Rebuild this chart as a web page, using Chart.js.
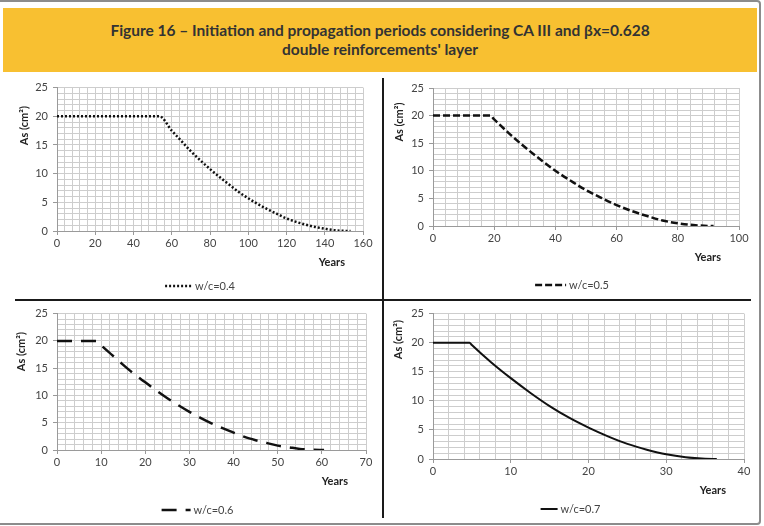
<!DOCTYPE html>
<html>
<head>
<meta charset="utf-8">
<script src="https://cdn.jsdelivr.net/npm/chart.js@4.4.0/dist/chart.umd.min.js"></script>
<style>
body { margin: 0; background: #fff; width: 764px; height: 526px; overflow: hidden; position: relative; font-family: Lato, sans-serif; }
#frame { position: absolute; left: -4px; top: 0px; width: 761px; height: 521px; border: 2px solid #8c8c8c; border-radius: 4px; }
#banner { position: absolute; left: 3px; top: 8px; width: 754px; height: 64px; background: #f8c031; text-align: center; color: #333; font: bold 15.5px Lato, sans-serif; line-height: 19px; box-sizing: border-box; padding-top: 13px; }
.vline { position: absolute; left: 382px; top: 78px; width: 2px; height: 440px; background: #1a1a1a; }
.hline { position: absolute; left: 15px; top: 299px; width: 736px; height: 2px; background: #1a1a1a; }
.box { position: absolute; }
</style>
</head>
<body>
<div id="frame"></div>
<div id="banner">Figure 16 – Initiation and propagation periods considering CA III and βx=0.628<br>double reinforcements' layer</div>
<div class="vline"></div>
<div class="hline"></div>
<div class="box" style="left:0px;top:76px"><canvas id="c1" width="382" height="222"></canvas></div>
<div class="box" style="left:384px;top:76px"><canvas id="c2" width="376" height="222"></canvas></div>
<div class="box" style="left:0px;top:302px"><canvas id="c3" width="382" height="220"></canvas></div>
<div class="box" style="left:384px;top:302px"><canvas id="c4" width="374" height="218"></canvas></div>
<script>
// w/c = 0.4
var years04 = [0, 53.5, 60, 65, 70, 75, 80, 85, 90, 95, 100, 105, 110, 115, 120, 125, 130, 135, 140, 145, 150, 153.5];
var as04    = [20, 20, 17.5, 15.7, 13.9, 12.3, 10.8, 9.4, 8.1, 6.8, 5.7, 4.7, 3.8, 3.0, 2.2, 1.6, 1.1, 0.7, 0.4, 0.14, 0.02, 0];
// w/c = 0.5
var years05 = [0, 18.7, 20, 25, 30, 35, 40, 45, 50, 55, 60, 65, 70, 75, 80, 85, 90, 91.7];
var as05    = [20, 20, 19.3, 16.7, 14.3, 12.1, 10.0, 8.2, 6.5, 5.1, 3.8, 2.7, 1.8, 1.0, 0.5, 0.17, 0.01, 0];
// w/c = 0.6
var years06 = [0, 9, 10, 12.5, 15, 17.5, 20, 22.5, 25, 27.5, 30, 32.5, 35, 37.5, 40, 42.5, 45, 47.5, 50, 52.5, 55, 57.5, 60.5];
var as06    = [20, 20, 19.2, 17.4, 15.6, 13.9, 12.4, 10.9, 9.5, 8.2, 7.0, 5.9, 4.9, 4.0, 3.2, 2.4, 1.8, 1.3, 0.8, 0.5, 0.2, 0.07, 0];
// w/c = 0.7
var years07 = [0, 4.7, 5, 7.5, 10, 12.5, 15, 17.5, 20, 22.5, 25, 27.5, 30, 32.5, 35, 36.5];
var as07    = [20, 20, 19.6, 16.6, 13.9, 11.4, 9.1, 7.1, 5.4, 3.9, 2.6, 1.6, 0.8, 0.3, 0.04, 0];

var seriesLabels = ['w/c=0.4', 'w/c=0.5', 'w/c=0.6', 'w/c=0.7'];
var xMax = [160, 100, 70, 40];
var xMajor = [20, 20, 10, 10];
var yMax = 25, yMajor = 5;
var yTitle = 'As (cm²)', xTitle = 'Years';

var panels = [
    { id: 'c1', x: years04, y: as04, box: [0, 76, 382, 222], area: [57, 87, 363, 231], dash: [2, 2], lw: 2.5, sample: 27, legY: 55, legC: -10, yt: [24, 38] },
    { id: 'c2', x: years05, y: as05, box: [384, 76, 376, 222], area: [433, 88, 739, 226], dash: [7, 3], lw: 2.5, sample: 31, legY: 59, legC: -14, yt: [399, 34] },
    { id: 'c3', x: years06, y: as06, box: [0, 302, 382, 220], area: [57, 312, 366, 450], dash: [15, 9], lw: 2.5, sample: 29, legY: 60, legC: -14, yt: [21, 38] },
    { id: 'c4', x: years07, y: as07, box: [384, 302, 374, 218], area: [433, 311, 744, 459], dash: [], lw: 2, sample: 17, legY: 50, legC: -18, yt: [398, 26] }
];

var textPlugin = {
    id: 'panelText',
    afterDraw: function(chart) {
        var p = chart.options.plugins.panelText;
        var ctx = chart.ctx;
        var a = chart.chartArea;
        var bx = p.box;
        ctx.save();
        ctx.fillStyle = '#222';
        ctx.font = 'bold 11px Lato, sans-serif';
        // y title
        ctx.save();
        ctx.translate(p.yt[0] - bx[0], a.top + p.yt[1]);
        ctx.rotate(-Math.PI / 2);
        ctx.textAlign = 'center';
        ctx.textBaseline = 'middle';
        ctx.fillText(yTitle, 0, 0);
        ctx.restore();
        // x title
        ctx.textAlign = 'right';
        ctx.textBaseline = 'middle';
        ctx.fillText(xTitle, a.right - 18, a.bottom + 31);
        // legend
        ctx.font = '11px Lato, sans-serif';
        ctx.fillStyle = '#444';
        var tw = ctx.measureText(p.label).width;
        var total = p.sample + 3 + tw;
        var lx = (a.left + a.right) / 2 + p.legC - total / 2;
        var ly = a.bottom + p.legY;
        ctx.strokeStyle = '#111';
        ctx.lineWidth = p.lw;
        ctx.setLineDash(p.dash);
        ctx.beginPath();
        ctx.moveTo(lx, ly);
        ctx.lineTo(lx + p.sample, ly);
        ctx.stroke();
        ctx.setLineDash([]);
        ctx.textAlign = 'left';
        ctx.fillText(p.label, lx + p.sample + 3, ly);
        ctx.restore();
    }
};

panels.forEach(function(p, i) {
    var pts = p.x.map(function(v, k) { return { x: v, y: p.y[k] }; });
    var bx = p.box, ar = p.area;
    var major = xMajor[i];
    new Chart(document.getElementById(p.id), {
        type: 'line',
        data: {
            datasets: [{
                label: seriesLabels[i],
                data: pts,
                borderColor: '#111',
                borderWidth: p.lw,
                borderDash: p.dash,
                pointRadius: 0,
                fill: false,
                cubicInterpolationMode: 'monotone'
            }]
        },
        options: {
            responsive: false,
            animation: false,
            layout: { padding: { top: ar[1] - bx[1], right: bx[0] + bx[2] - ar[2], left: 0, bottom: 0 } },
            plugins: {
                legend: { display: false },
                tooltip: { enabled: false },
                panelText: { box: bx, yt: p.yt, label: seriesLabels[i], dash: p.dash, lw: p.lw, sample: p.sample, legY: p.legY, legC: p.legC }
            },
            scales: {
                x: {
                    type: 'linear',
                    min: 0,
                    max: xMax[i],
                    afterFit: function(s) { s.height = bx[1] + bx[3] - ar[3]; },
                    ticks: {
                        stepSize: major / 5,
                        autoSkip: false,
                        maxRotation: 0,
                        padding: 2,
                        color: '#444',
                        font: { family: 'Lato, sans-serif', size: 11 },
                        callback: function(v) { return v % major === 0 ? v : ''; }
                    },
                    grid: {
                        color: '#cdcdcd',
                        lineWidth: 1,
                        tickLength: 4,
                        tickColor: function(c) { return c.tick && c.tick.value % major === 0 ? '#999' : 'rgba(0,0,0,0)'; }
                    },
                    border: { color: '#9a9a9a' }
                },
                y: {
                    min: 0,
                    max: yMax,
                    afterFit: function(s) { s.width = ar[0] - bx[0]; },
                    ticks: {
                        stepSize: 1,
                        autoSkip: false,
                        padding: 5,
                        color: '#444',
                        font: { family: 'Lato, sans-serif', size: 11 },
                        callback: function(v) { return v % yMajor === 0 ? v : ''; }
                    },
                    grid: {
                        color: '#cdcdcd',
                        lineWidth: 1,
                        tickLength: 4,
                        tickColor: function(c) { return c.tick && c.tick.value % yMajor === 0 ? '#999' : 'rgba(0,0,0,0)'; }
                    },
                    border: { color: '#9a9a9a' }
                }
            }
        },
        plugins: [textPlugin]
    });
});
</script>
</body>
</html>
